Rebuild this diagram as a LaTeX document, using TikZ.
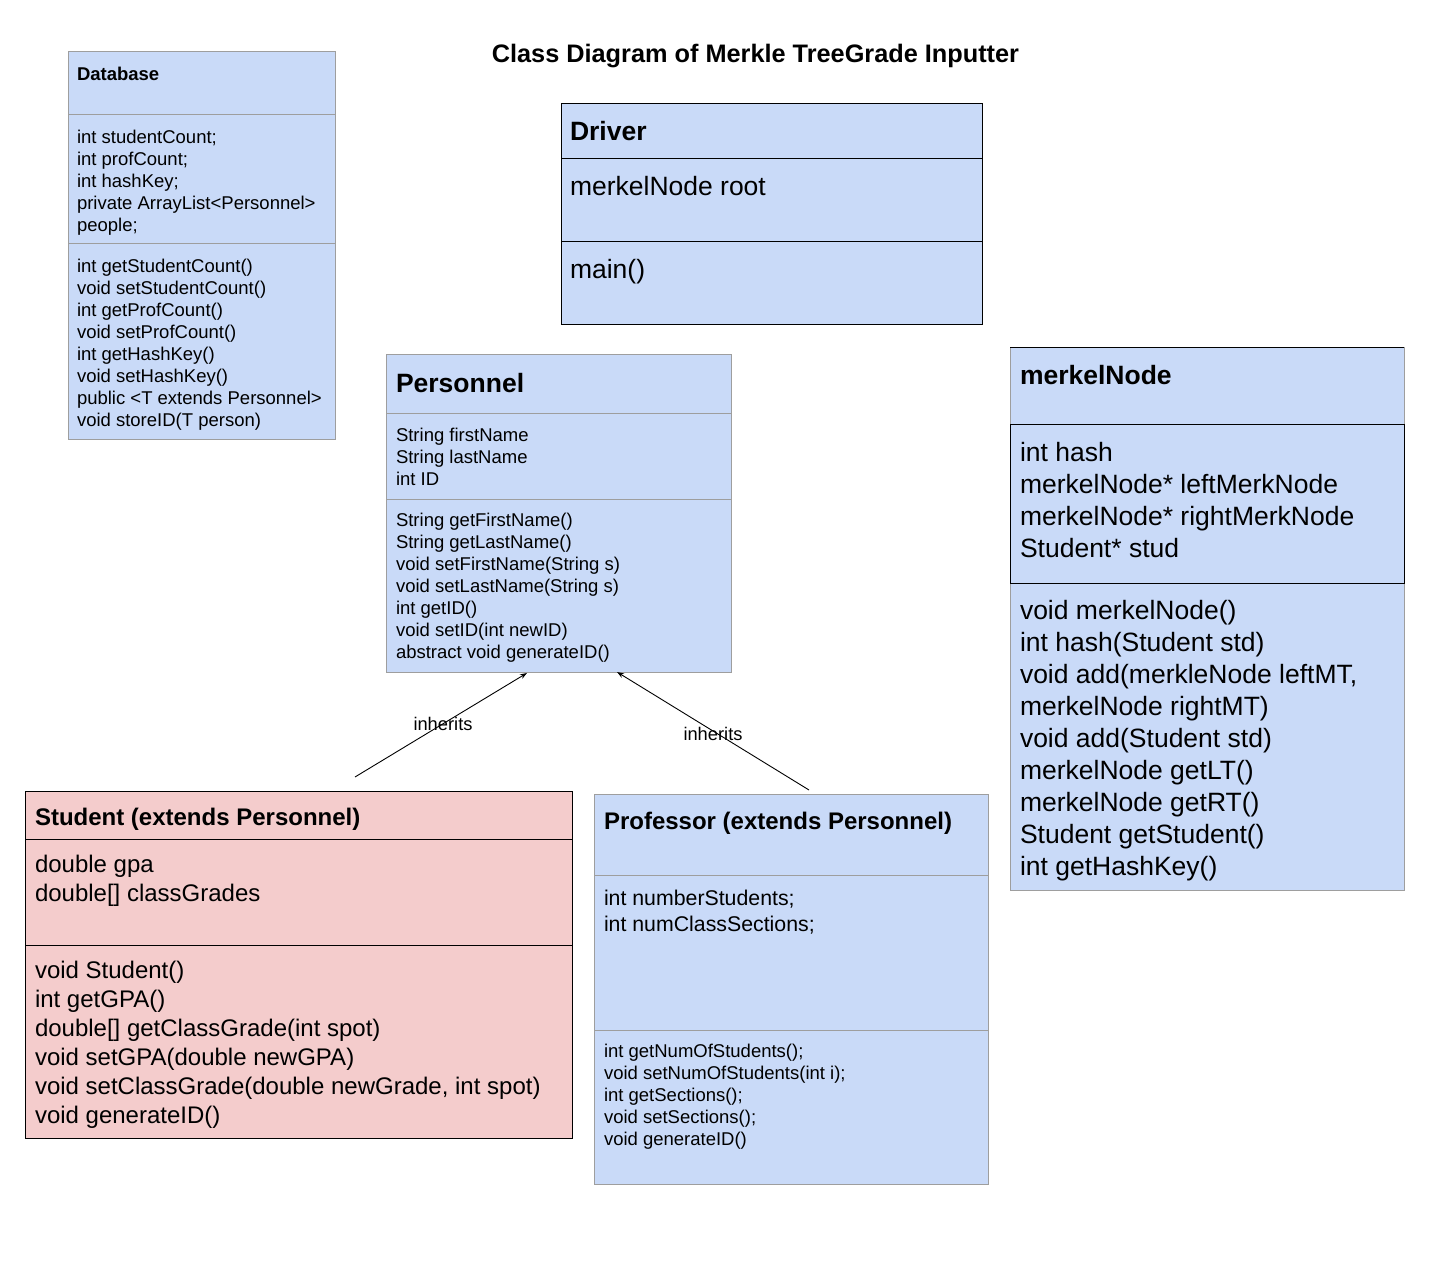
\documentclass[tikz,border=0pt]{standalone}
\usepackage{fontspec}
\setmainfont{Liberation Sans}
\usetikzlibrary{arrows.meta}
\definecolor{boxblue}{HTML}{C9DAF8}
\definecolor{boxpink}{HTML}{F4CCCC}
\definecolor{boxgray}{HTML}{9E9E9E}
\newcommand{\fsz}[2]{\fontsize{#1}{#2}\selectfont}
\tikzset{
  classbox/.style={rectangle, anchor=north west, inner sep=0pt, outer sep=0pt, line width=1pt},
  bluebox/.style={classbox, fill=boxblue, draw=boxgray},
  blueblack/.style={classbox, fill=boxblue, draw=black},
  pinkbox/.style={classbox, fill=boxpink, draw=black},
  graydiv/.style={draw=boxgray, line width=1pt},
  blackdiv/.style={draw=black, line width=1pt},
  txt/.style={anchor=north west, inner sep=0pt, outer sep=0pt, align=left, yshift=-1.5pt},
  smalltxt/.style={txt, font=\fsz{18.5}{22}},
  smallbold/.style={txt, font=\fsz{18.5}{22}\bfseries},
  bigtxt/.style={txt, font=\fsz{26.5}{32}},
  bigbold/.style={txt, font=\fsz{26.5}{32}\bfseries},
  midtxt/.style={txt, font=\fsz{24}{29}},
  midbold/.style={txt, font=\fsz{24}{29}\bfseries},
  proftxt/.style={txt, font=\fsz{21.3}{26}},
  lbl/.style={inner sep=0pt, font=\fsz{18.3}{22}, yshift=-1pt},
  inh/.style={draw=black, line width=0.9pt, -{Stealth[length=7pt,width=5pt]}}
}
\begin{document}
\begin{tikzpicture}[x=1pt,y=-1pt]
\useasboundingbox (0,0) rectangle (1436,1273);

% title
\node[font=\fsz{25.3}{30}\bfseries, inner sep=0pt, yshift=-1.5pt] (title) at (755.5,55) {Class Diagram of Merkle TreeGrade Inputter};

% Database
\node[bluebox, minimum width=267pt, minimum height=387pt] (db) at (68,52) {};
\draw[graydiv] (db.west |- 0,115) -- (db.east |- 0,115);
\draw[graydiv] (db.west |- 0,244) -- (db.east |- 0,244);
\node[smallbold] (dbt) at (77,63.6) {\strut Database};
\node[smalltxt] (dba) at (77,126.6) {\strut int studentCount;\\int profCount;\\int hashKey;\\private ArrayList<Personnel>\\people;};
\node[smalltxt] (dbm) at (77,255.6) {\strut int getStudentCount()\\void setStudentCount()\\int getProfCount()\\void setProfCount()\\int getHashKey()\\void setHashKey()\\public <T extends Personnel>\\void storeID(T person)};

% Driver
\node[blueblack, minimum width=421pt, minimum height=221pt] (drv) at (561,104) {};
\draw[blackdiv] (drv.west |- 0,159) -- (drv.east |- 0,159);
\draw[blackdiv] (drv.west |- 0,242) -- (drv.east |- 0,242);
\node[bigbold] (drvt) at (570,116.6) {\strut Driver};
\node[bigtxt] (drva) at (570,171.6) {\strut merkelNode root};
\node[bigtxt] (drvm) at (570,254.6) {\strut main()};

% Personnel
\node[bluebox, minimum width=345pt, minimum height=317pt] (pers) at (386,355) {};
\draw[graydiv] (pers.west |- 0,414) -- (pers.east |- 0,414);
\draw[graydiv] (pers.west |- 0,499) -- (pers.east |- 0,499);
\node[bigbold] (perst) at (396,368.6) {\strut Personnel};
\node[smalltxt] (persa) at (396,424.6) {\strut String firstName\\String lastName\\int ID};
\node[smalltxt] (persm) at (396,509.6) {\strut String getFirstName()\\String getLastName()\\void setFirstName(String s)\\void setLastName(String s)\\int getID()\\void setID(int newID)\\abstract void generateID()};

% merkelNode
\node[bluebox, minimum width=394pt, minimum height=542pt] (mn) at (1010,348) {};
\draw[blackdiv] (mn.north west) -- (mn.north east);
\draw[blackdiv] (mn.west |- 0,424) rectangle (mn.east |- 0,583);
\node[bigbold] (mnt) at (1020,360.6) {\strut merkelNode};
\node[bigtxt] (mna) at (1020,437.6) {\strut int hash\\merkelNode* leftMerkNode\\merkelNode* rightMerkNode\\Student* stud};
\node[bigtxt] (mnm) at (1020,595.6) {\strut void merkelNode()\\int hash(Student std)\\void add(merkleNode leftMT,\\merkelNode rightMT)\\void add(Student std)\\merkelNode getLT()\\merkelNode getRT()\\Student getStudent()\\int getHashKey()};

% Student
\node[pinkbox, minimum width=547pt, minimum height=347pt] (stu) at (25,791) {};
\draw[blackdiv] (stu.west |- 0,839) -- (stu.east |- 0,839);
\draw[blackdiv] (stu.west |- 0,945) -- (stu.east |- 0,945);
\node[midbold] (stut) at (35,803.7) {\strut Student (extends Personnel)};
\node[midtxt] (stua) at (35,850.7) {\strut double gpa\\double[] classGrades};
\node[midtxt] (stum) at (35,956.7) {\strut void Student()\\int getGPA()\\double[] getClassGrade(int spot)\\void setGPA(double newGPA)\\void setClassGrade(double newGrade, int spot)\\void generateID()};

% Professor
\node[bluebox, minimum width=394pt, minimum height=390pt] (prof) at (594,794) {};
\draw[graydiv] (prof.west |- 0,875) -- (prof.east |- 0,875);
\draw[graydiv] (prof.west |- 0,1030) -- (prof.east |- 0,1030);
\node[midbold] (proft) at (604,807.7) {\strut Professor (extends Personnel)};
\node[proftxt] (profa) at (604,885.8) {\strut int numberStudents;\\int numClassSections;};
\node[smalltxt] (profm) at (604,1040.6) {\strut int getNumOfStudents();\\void setNumOfStudents(int i);\\int getSections();\\void setSections();\\void generateID()};

% inheritance connectors
\coordinate (s1) at (355,777);
\coordinate (p1) at (527,673);
\coordinate (s2) at (809,790);
\coordinate (p2) at (617,672);
\draw[inh] (s1) -- (p1);
\draw[inh] (s2) -- (p2);
\node[lbl] (lab1) at (443,723) {inherits};
\node[lbl] (lab2) at (713,733) {inherits};
\end{tikzpicture}
\end{document}
